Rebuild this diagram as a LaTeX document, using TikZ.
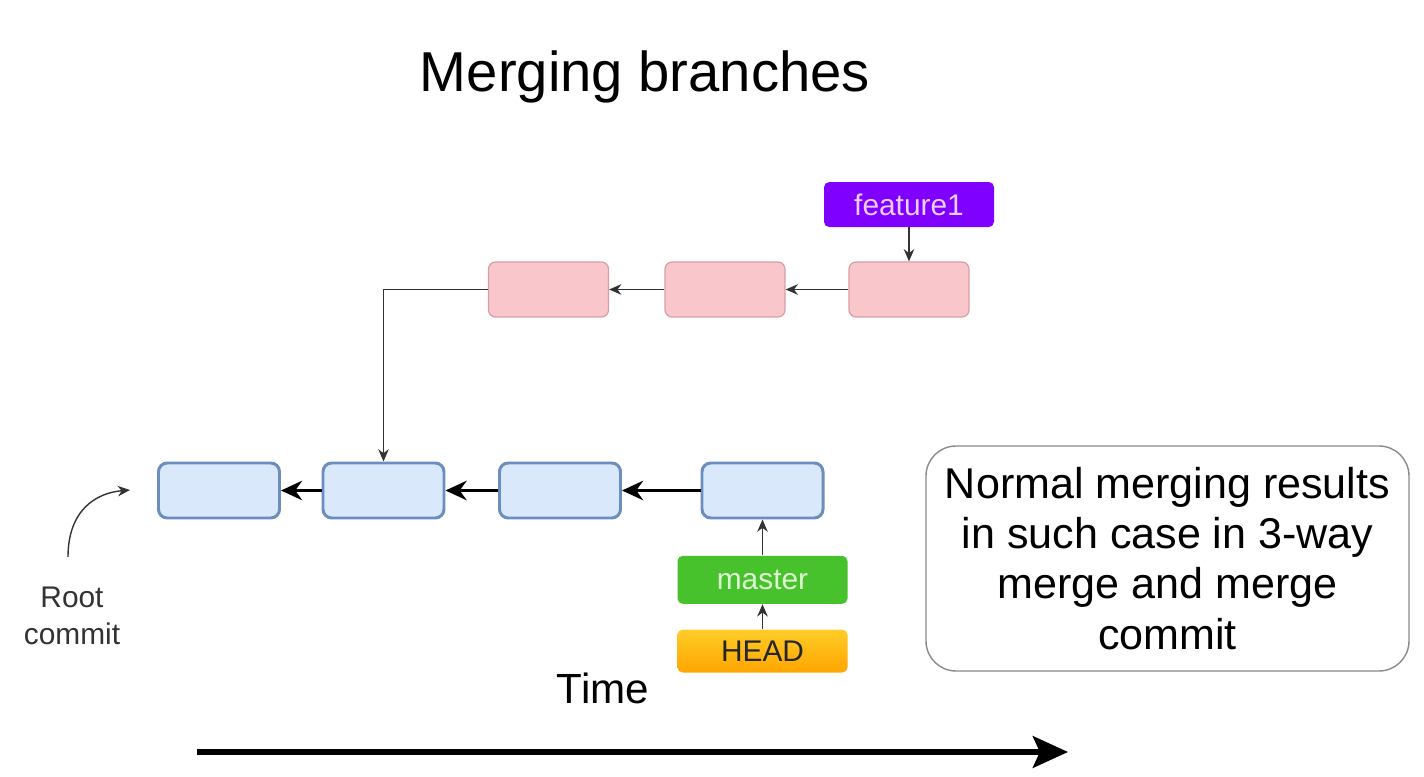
\documentclass[tikz,border=0pt]{standalone}
\usepackage{fontspec}
\setmainfont{Liberation Sans}
\usetikzlibrary{arrows.meta,positioning}
\definecolor{pinkfill}{HTML}{F8C6CB}
\definecolor{pinkline}{HTML}{D89EA6}
\definecolor{bluefill}{HTML}{DAE8FC}
\definecolor{blueline}{HTML}{6C8EBF}
\definecolor{violetfill}{HTML}{7F00FF}
\definecolor{violettext}{HTML}{EDCCFF}
\definecolor{greenfill}{HTML}{48C22C}
\definecolor{greentext}{HTML}{DDF7D2}
\definecolor{headtop}{HTML}{FFCD28}
\definecolor{headbottom}{HTML}{FFA500}
\definecolor{notebox}{HTML}{8A8A8A}
\begin{document}
\begin{tikzpicture}[>={Stealth[length=7pt,width=6pt]},
  feat/.style={draw=pinkline, fill=pinkfill, line width=0.7pt, rounded corners=4pt,
    minimum width=2.4cm, minimum height=1.1cm},
  mast/.style={draw=blueline, fill=bluefill, line width=1.7pt, rounded corners=5pt,
    minimum width=2.42cm, minimum height=1.1cm},
  label/.style={rounded corners=3pt, minimum width=3.4cm, font=\fontsize{17}{20}\selectfont},
  thin/.style={->, line width=0.8pt, black!80},
  thick/.style={-{Stealth[length=12pt,width=11pt]}, line width=2.2pt}]
\useasboundingbox (0,0) rectangle (28.48,15.52);
\fill[white] (0,0) rectangle (28.48,15.52);

\node (title) at (12.9,13.98) {\fontsize{32}{36}\selectfont Merging branches};

\node[feat] (p1) at (10.97,9.73) {};
\node[feat] (p2) at (14.5,9.73) {};
\node[feat] (p3) at (18.18,9.73) {};
\node[label, fill=violetfill, text=violettext, minimum height=0.9cm, above=0.68cm of p3] (feature) {feature1};

\node[mast] (b1) at (4.38,5.71) {};
\node[mast] (b2) at (7.67,5.71) {};
\node[mast] (b3) at (11.2,5.71) {};
\node[mast] (b4) at (15.25,5.71) {};
\node[label, fill=greenfill, text=greentext, minimum height=0.96cm, below=0.72cm of b4] (master) {master};
\node[label, top color=headtop, bottom color=headbottom, text=black!85, minimum height=0.86cm, below=0.5cm of master] (head) {HEAD};

\draw[thin] (feature) -- (p3);
\draw[thin] (p3) -- (p2);
\draw[thin] (p2) -- (p1);
\draw[thin] (p1.west) -| (b2.north);

\draw[thick] (b4) -- (b3);
\draw[thick] (b3) -- (b2);
\draw[thick] (b2) -- (b1);
\draw[thin] (master) -- (b4);
\draw[thin] (head) -- (master);

\node[align=center, font=\fontsize{17}{21}\selectfont, text=black!80] (root) at (1.44,3.2) {Root\\commit};
\coordinate (rootfrom) at (1.36,4.38);
\coordinate (rootto) at (2.6,5.72);
\draw[thin] (rootfrom) .. controls (1.36,5.3) and (1.9,5.66) .. (rootto);

\node[font=\fontsize{24}{28}\selectfont] (time) at (12.06,1.76) {Time};
\coordinate (tstart) at (3.94,0.48);
\coordinate (tend) at (21.36,0.48);
\draw[-{Stealth[length=20pt,width=18pt,inset=4pt]}, line width=3.2pt] (tstart) -- (tend);

\node[draw=notebox, line width=0.8pt, rounded corners=0.6cm, minimum width=9.66cm, minimum height=4.5cm,
  align=center, font=\fontsize{24.5}{28.5}\selectfont] (note) at (23.35,4.35)
  {Normal merging results\\in such case in 3-way\\merge and merge\\commit};
\end{tikzpicture}
\end{document}
